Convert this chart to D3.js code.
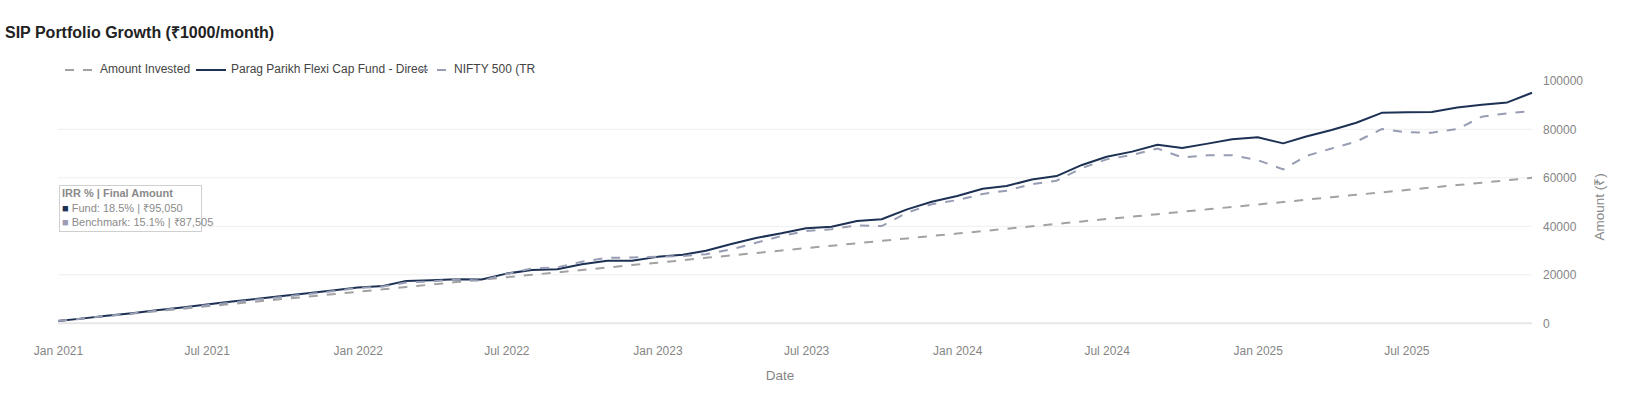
<!DOCTYPE html>
<html>
<head>
<meta charset="utf-8">
<script src="https://cdn.jsdelivr.net/npm/d3@7"></script>
<style>
  html, body { margin: 0; padding: 0; background: #fff; }
  svg { display: block; font-family: "Liberation Sans", Arial, sans-serif; }
</style>
</head>
<body>
<svg id="chart" width="1625" height="400"></svg>
<script>
// ---- data ----
const months = [
  "2021-01","2021-02","2021-03","2021-04","2021-05","2021-06","2021-07","2021-08","2021-09","2021-10","2021-11","2021-12",
  "2022-01","2022-02","2022-03","2022-04","2022-05","2022-06","2022-07","2022-08","2022-09","2022-10","2022-11","2022-12",
  "2023-01","2023-02","2023-03","2023-04","2023-05","2023-06","2023-07","2023-08","2023-09","2023-10","2023-11","2023-12",
  "2024-01","2024-02","2024-03","2024-04","2024-05","2024-06","2024-07","2024-08","2024-09","2024-10","2024-11","2024-12",
  "2025-01","2025-02","2025-03","2025-04","2025-05","2025-06","2025-07","2025-08","2025-09","2025-10","2025-11","2025-12"
];
const amountInvested = [
  1000,2000,3000,4000,5000,6000,7000,8000,9000,10000,11000,12000,
  13000,14000,15000,16000,17000,18000,19000,20000,21000,22000,23000,24000,
  25000,26000,27000,28000,29000,30000,31000,32000,33000,34000,35000,36000,
  37000,38000,39000,40000,41000,42000,43000,44000,45000,46000,47000,48000,
  49000,50000,51000,52000,53000,54000,55000,56000,57000,58000,59000,60000
];
const fundValue = [
  1000,2040,3100,4200,5350,6500,7750,8950,10100,11300,12400,13500,
  14800,15400,17500,17800,18200,18100,20500,22000,22300,24400,25800,25800,
  27400,28300,29900,32700,35200,37100,39200,39800,42200,42900,47000,50100,
  52500,55500,56600,59300,60700,65300,68700,70800,73600,72300,74100,75900,
  76700,74200,77000,79700,82700,86800,87000,87100,89000,90100,91100,95050
];
const benchmarkValue = [
  1000,2020,3050,4100,5200,6300,7450,8600,9800,10900,12000,13200,
  14600,15200,16800,17300,18200,17600,20300,22600,23100,25400,27000,27100,
  27500,27800,28500,30500,33200,36000,38100,38800,40400,40100,45600,49100,
  50800,53300,54700,57400,58800,64000,67600,69400,72100,68400,69300,69300,
  67300,63500,69000,72100,74900,80100,78800,78600,80100,85200,86600,87505
];
const seriesNames = ["Amount Invested", "Parag Parikh Flexi Cap Fund - Direct", "NIFTY 500 (TR"];
const yTicks = [0, 20000, 40000, 60000, 80000, 100000];
const xTickLabels = ["Jan 2021","Jul 2021","Jan 2022","Jul 2022","Jan 2023","Jul 2023","Jan 2024","Jul 2024","Jan 2025","Jul 2025"];
const titleText = "SIP Portfolio Growth (₹1000/month)";
const annotationLines = ["IRR % | Final Amount", "Fund: 18.5% | ₹95,050", "Benchmark: 15.1% | ₹87,505"];

// ---- layout ----
(function () {
const svg = d3.select("#chart");
const parse = d3.timeParse("%Y-%m");
const dates = months.map(parse);
const pLeft = 58, pRight = 1532, pTop = 81.4, pBottom = 332.3;

const x = d3.scaleTime().domain(d3.extent(dates)).range([pLeft, pRight]);
const y = d3.scaleLinear().domain([-3702.5, 99752.5]).range([pBottom, pTop]);

const colInvested = "#a2a2a2";
const colFund = "#1c3153";
const colBench = "#979db3";
const tickCol = "#858585";
const ff = "Liberation Sans, Arial, sans-serif";

// gridlines
svg.append("g").selectAll("line")
  .data(yTicks.filter(t => t > 0 && y(t) > pTop))
  .join("line")
  .attr("x1", pLeft).attr("x2", pRight)
  .attr("y1", d => y(d)).attr("y2", d => y(d))
  .attr("stroke", "#eeeeee").attr("stroke-width", 1);
svg.append("line")
  .attr("x1", pLeft).attr("x2", pRight)
  .attr("y1", y(0)).attr("y2", y(0))
  .attr("stroke", "#e6e6e6").attr("stroke-width", 2);

// y axis on right
const yAxis = d3.axisRight(y).tickValues(yTicks).tickSize(0).tickPadding(11).tickFormat(d3.format("d"));
const gy = svg.append("g").attr("transform", `translate(${pRight},0)`).call(yAxis);
gy.select(".domain").remove();
gy.selectAll("text").attr("fill", tickCol).style("font-size", "12px").style("font-family", ff);

// x axis
const xTickDates = xTickLabels.map(d3.timeParse("%b %Y"));
const xAxis = d3.axisBottom(x).tickValues(xTickDates).tickSize(0).tickPadding(0).tickFormat(d3.timeFormat("%b %Y"));
const gx = svg.append("g").attr("transform", `translate(0,${pBottom})`).call(xAxis);
gx.select(".domain").remove();
gx.selectAll("text").attr("fill", tickCol).attr("dy", null).attr("y", 20)
  .attr("dominant-baseline", "middle")
  .style("font-size", "12px").style("font-family", ff);

// axis titles
svg.append("text").attr("x", 780).attr("y", 376).attr("text-anchor", "middle")
  .attr("dominant-baseline", "middle").attr("fill", tickCol).style("font-size", "13.5px").text("Date");
svg.append("text").attr("transform", `translate(1600,${(pTop + pBottom) / 2}) rotate(-90)`)
  .attr("text-anchor", "middle").attr("dominant-baseline", "middle")
  .attr("fill", tickCol).style("font-size", "13.5px").text("Amount (₹)");

// lines
const rows = dates.map((d, i) => ({ d, inv: amountInvested[i], fund: fundValue[i], bench: benchmarkValue[i] }));
const mk = key => d3.line().x(r => x(r.d)).y(r => y(r[key]));
const plot = svg.append("g");
plot.append("path").datum(rows).attr("d", mk("inv")).attr("fill", "none")
  .attr("stroke", colInvested).attr("stroke-width", 2).attr("stroke-dasharray", "9,9");
plot.append("path").datum(rows).attr("d", mk("fund")).attr("fill", "none")
  .attr("stroke", colFund).attr("stroke-width", 2).attr("stroke-linejoin", "round");
plot.append("path").datum(rows).attr("d", mk("bench")).attr("fill", "none")
  .attr("stroke", colBench).attr("stroke-width", 2).attr("stroke-dasharray", "9,9");

// title
svg.append("text").attr("x", 5).attr("y", 34).attr("dominant-baseline", "middle")
  .attr("fill", "#222").style("font-size", "16px").style("font-weight", "bold").text(titleText);

// legend
const legendItems = [
  { name: seriesNames[0], color: colInvested, dash: "9,9", x0: 60 },
  { name: seriesNames[1], color: colFund, dash: null, x0: 191 },
  { name: seriesNames[2], color: colBench, dash: "9,9", x0: 414 }
];
const lg = svg.append("g");
legendItems.forEach(it => {
  const g = lg.append("g").attr("transform", `translate(${it.x0},70)`);
  g.append("line").attr("x1", 5).attr("x2", 35).attr("y1", 0).attr("y2", 0)
    .attr("stroke", it.color).attr("stroke-width", 2).attr("stroke-dasharray", it.dash);
  g.append("text").attr("x", 40).attr("y", 0).attr("dominant-baseline", "middle")
    .attr("fill", "#444").style("font-size", "12px").text(it.name);
});

// annotation box
const ann = svg.append("g");
ann.append("rect").attr("x", 59.5).attr("y", 185.5).attr("width", 142).attr("height", 46)
  .attr("fill", "#fff").attr("stroke", "#cfcfcf").attr("stroke-width", 1);
const annCol = "#8a8a8a";
ann.append("text").attr("x", 62).attr("y", 194.5).attr("dominant-baseline", "middle")
  .attr("fill", annCol).style("font-size", "11px").style("font-weight", "bold").text(annotationLines[0]);
[[annotationLines[1], colFund], [annotationLines[2], "#9c9cb6"]].forEach((p, i) => {
  const t = ann.append("text").attr("x", 62).attr("y", 208.5 + i * 14).attr("dominant-baseline", "middle")
    .style("font-size", "11px");
  t.append("tspan").attr("fill", p[1]).text("■ ");
  t.append("tspan").attr("fill", annCol).text(p[0]);
});
})();
</script>
</body>
</html>
